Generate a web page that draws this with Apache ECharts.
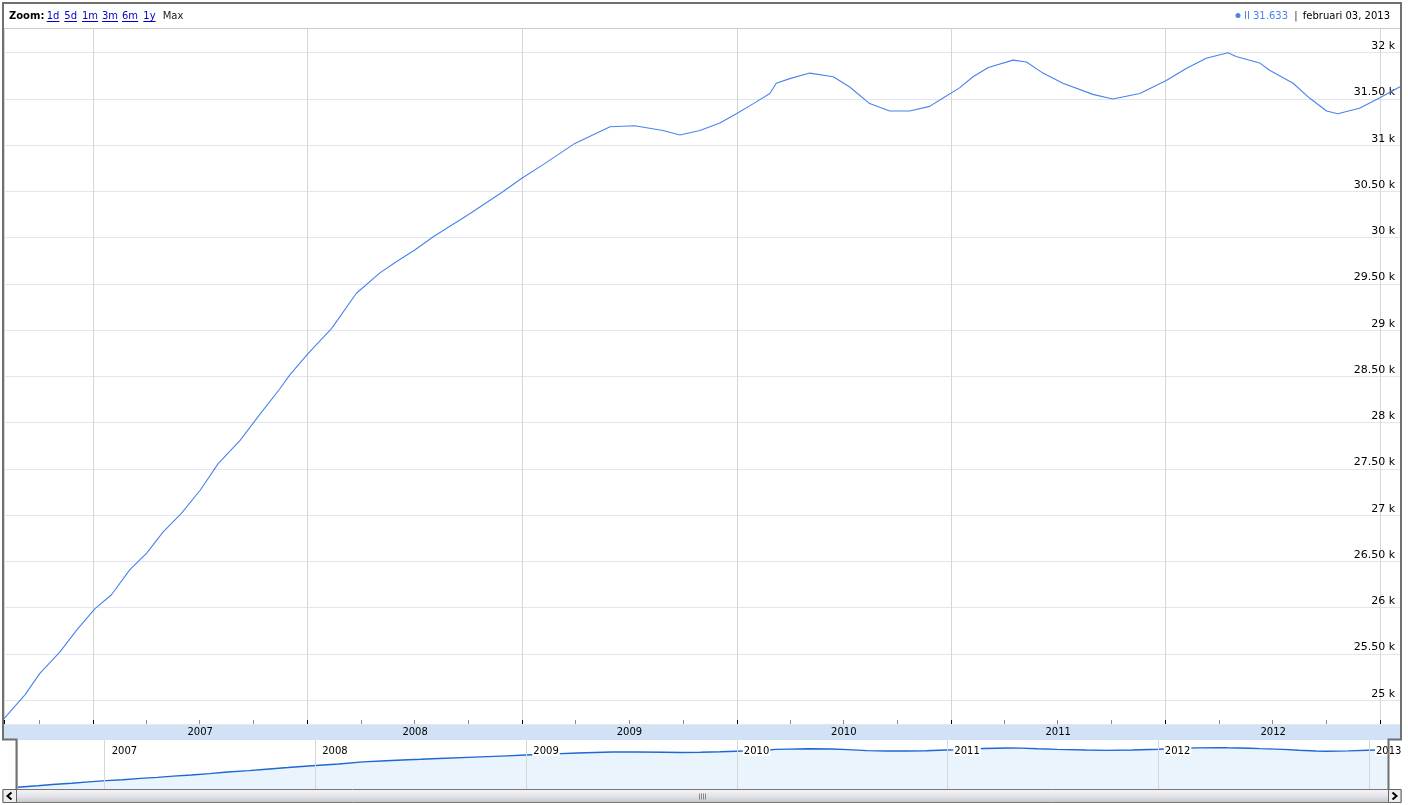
<!DOCTYPE html>
<html><head><meta charset="utf-8">
<script src="https://cdn.jsdelivr.net/npm/echarts@6/dist/echarts.min.js"></script>
<style>html,body{margin:0;padding:0;background:#fff}#c{width:1408px;height:805px}</style>
</head><body><div id="c"></div>
<script>
// ---------- data ----------
const dates = ['2006-08-02','2006-09-07','2006-10-02','2006-11-05','2006-12-04','2007-01-04','2007-02-01','2007-03-04','2007-04-02','2007-04-30','2007-05-31','2007-07-02','2007-08-02','2007-09-08','2007-10-08','2007-11-15','2007-12-02','2008-01-02','2008-02-11','2008-03-24','2008-05-03','2008-05-31','2008-07-02','2008-08-02','2008-10-03','2008-11-29','2008-12-30','2009-02-05','2009-02-19','2009-03-31','2009-05-30','2009-07-11','2009-08-28','2009-09-26','2009-10-30','2009-12-03','2009-12-31','2010-01-29','2010-02-26','2010-03-09','2010-04-01','2010-05-05','2010-06-14','2010-07-12','2010-08-15','2010-09-18','2010-10-22','2010-11-25','2010-12-18','2011-01-15','2011-02-07','2011-03-05','2011-04-16','2011-05-09','2011-06-06','2011-07-10','2011-08-30','2011-10-03','2011-11-18','2012-01-02','2012-02-05','2012-03-10','2012-04-16','2012-04-30','2012-06-09','2012-06-26','2012-08-05','2012-09-02','2012-10-01','2012-10-20','2012-11-26','2012-12-30','2013-02-03'];
const values = [24800,25060,25290,25520,25760,25990,26140,26410,26590,26820,27020,27270,27560,27810,28060,28370,28520,28750,29020,29400,29620,29740,29870,30010,30260,30500,30640,30790,30850,31020,31200,31210,31160,31110,31160,31240,31340,31450,31560,31670,31720,31780,31740,31630,31450,31370,31370,31420,31510,31620,31740,31840,31920,31900,31780,31670,31550,31500,31560,31700,31830,31940,32000,31960,31890,31810,31670,31510,31370,31340,31400,31510,31633];
const bandYears = [2007,2008,2009,2010,2011,2012];
const zoomLinks = ['1d','5d','1m','3m','6m','1y'];
const zoomLinkX = [46.7,64.3,82,102,122,143.3];
const seriesName = 'II';
const lastValueText = '31.633';
const lastDateText = 'februari 03, 2013';
const xMinDate = '2006-08-02', xMaxDate = '2013-02-03';
const yMin = 24743, yMax = 32262;
const navMin = 24380, navMax = 33380;

// ---------- helpers ----------
const ts = s => { const p = s.split('-').map(Number); return Date.UTC(p[0], p[1]-1, p[2]); };
const xMin = ts(xMinDate), xMax = ts(xMaxDate);
const points = dates.map((d,i) => [ts(d), values[i]]);
const FONT = '"DejaVu Sans", Verdana, sans-serif';
const BLUE = '#4684ee';

const ctx = document.createElement('canvas').getContext('2d');
ctx.font = '10px ' + FONT;
const tw = t => ctx.measureText(t).width;

const timeAxisBase = (grid, pos) => ({
  type: 'time', gridIndex: grid, position: pos, min: xMin, max: xMax,
  axisLine: {show:false}, axisTick: {show:false}, axisLabel: {show:false}, splitLine: {show:false}
});

const graphics = [];
// header
graphics.push({type:'text', x:9, y:16, style:{text:'Zoom:', font:'bold 10px '+FONT, fill:'#000', verticalAlign:'middle'}, z:100});
zoomLinks.forEach((t,i) => {
  graphics.push({type:'text', x:zoomLinkX[i], y:16, style:{text:t, font:'10px '+FONT, fill:'#0000cc', verticalAlign:'middle'}, z:100});
  graphics.push({type:'line', shape:{x1:zoomLinkX[i], y1:21.5, x2:zoomLinkX[i]+tw(t), y2:21.5}, style:{stroke:'#0000cc', lineWidth:1}, z:100});
});
graphics.push({type:'text', x:162.7, y:16, style:{text:'Max', font:'10px '+FONT, fill:'#222', verticalAlign:'middle'}, z:100});
graphics.push({type:'text', x:1390, y:16, style:{text:lastDateText, font:'10px '+FONT, fill:'#000', align:'right', verticalAlign:'middle'}, z:100});
graphics.push({type:'text', x:1296, y:16, style:{text:'|', font:'10px '+FONT, fill:'#333', align:'center', verticalAlign:'middle'}, z:100});
graphics.push({type:'text', x:1288, y:16, style:{text:seriesName + ' ' + lastValueText, font:'10px '+FONT, fill:BLUE, align:'right', verticalAlign:'middle'}, z:100});
graphics.push({type:'circle', shape:{cx:1238, cy:15.5, r:2.5}, style:{fill:BLUE}, z:100});
graphics.push({type:'line', shape:{x1:4, y1:28.5, x2:1400, y2:28.5}, style:{stroke:'#cccccc', lineWidth:1}, z:100});
// scrollbar
graphics.push({type:'rect', shape:{x:3, y:789.5, width:1398, height:13}, style:{fill:new echarts.graphic.LinearGradient(0,0,0,1,[{offset:0,color:'#f6f6f9'},{offset:0.5,color:'#e4e4ea'},{offset:1,color:'#c4c4cc'}]), stroke:'#777', lineWidth:1}, z:100});
graphics.push({type:'rect', shape:{x:3, y:789.5, width:13.5, height:13}, style:{fill:'#eeeeee', stroke:'#666', lineWidth:1}, z:101});
graphics.push({type:'rect', shape:{x:1388.5, y:789.5, width:12.5, height:13}, style:{fill:'#eeeeee', stroke:'#666', lineWidth:1}, z:101});
graphics.push({type:'polyline', shape:{points:[[11.5,792.5],[7.5,796],[11.5,799.5]]}, style:{stroke:'#000', lineWidth:2, fill:null}, z:102});
graphics.push({type:'polyline', shape:{points:[[1392.5,792.5],[1396.5,796],[1392.5,799.5]]}, style:{stroke:'#000', lineWidth:2, fill:null}, z:102});
[699.5,701.5,703.5,705.5].forEach(x => graphics.push({type:'line', shape:{x1:x, y1:793.5, x2:x, y2:799.5}, style:{stroke:'#888', lineWidth:1}, z:101}));
// frame
graphics.push({type:'polyline', shape:{points:[[16.5,790],[16.5,739.5],[3,739.5],[3,3],[1401,3],[1401,739.5],[1388.5,739.5],[1388.5,790]]}, style:{stroke:'#707070', lineWidth:2, fill:null}, z:100});

const option = {
  animation: false,
  useUTC: true,
  backgroundColor: '#ffffff',
  textStyle: {fontFamily: FONT},
  grid: [
    {left:4, right:8, top:28.5, bottom:81, containLabel:false, outerBoundsMode:'none'},
    {left:4, right:8, top:724, height:16, show:true, backgroundColor:'#d1e1f6', borderWidth:0, containLabel:false, outerBoundsMode:'none'},
    {left:17, right:20, top:740, height:49.5, show:true, backgroundColor:'#ffffff', borderWidth:0, containLabel:false, outerBoundsMode:'none'}
  ],
  xAxis: [
    Object.assign(timeAxisBase(0,'bottom'), {splitNumber:26, axisTick:{show:true, inside:true, length:4, lineStyle:{color:'#8a8a8a', width:1}}}),
    Object.assign(timeAxisBase(0,'bottom'), {splitNumber:7, splitLine:{show:true, lineStyle:{color:'#d3d8d3', width:1}}, axisTick:{show:true, inside:true, length:4, lineStyle:{color:'#000', width:1}}}),
    Object.assign(timeAxisBase(1,'bottom'), {show:false}),
    Object.assign(timeAxisBase(2,'top'), {splitNumber:7, z:10,
      splitLine:{show:true, lineStyle:{color:'#d3d9d3', width:1}},
      axisLabel:{show:true, inside:true, margin:5, align:'left', padding:[0,0,0,6], showMinLabel:false, showMaxLabel:false,
        formatter: v => '{t|' + new Date(v).getUTCFullYear() + '}',
        rich:{t:{fontSize:10, fontFamily:FONT, color:'#000', backgroundColor:'#ffffff', padding:[1,1,0,1]}}}}),
    Object.assign(timeAxisBase(2,'bottom'), {splitNumber:26, axisTick:{show:true, inside:true, length:4, lineStyle:{color:'#a0a0a0', width:1}}}),
    Object.assign(timeAxisBase(2,'bottom'), {splitNumber:7, axisTick:{show:true, inside:true, length:5, lineStyle:{color:'#000', width:1}}})
  ],
  yAxis: [
    {type:'value', gridIndex:0, position:'right', min:yMin, max:yMax, splitNumber:15,
      axisLine:{show:false}, axisTick:{show:false},
      splitLine:{show:true, lineStyle:{color:'#e5e5ef', width:1}},
      axisLabel:{show:true, inside:true, margin:5, color:'#000', fontSize:11, fontFamily:FONT, verticalAlign:'bottom', padding:[0,0,1,0],
        showMinLabel:false, showMaxLabel:false,
        formatter: v => (Math.round(v) % 500 !== 0) ? '' : (Math.round(v) % 1000 === 0 ? (Math.round(v)/1000) + ' k' : (v/1000).toFixed(2) + ' k')}},
    {type:'value', gridIndex:1, min:0, max:1, show:false},
    {type:'value', gridIndex:2, min:navMin, max:navMax, show:false}
  ],
  series: [
    {type:'line', name:seriesName, xAxisIndex:1, yAxisIndex:0, data:points, showSymbol:false, symbol:'none',
      lineStyle:{color:BLUE, width:1.1}, itemStyle:{color:BLUE}, z:5},
    {type:'custom', xAxisIndex:2, yAxisIndex:1, clip:false, silent:true,
      data: bandYears.map(y => [Date.UTC(y,6,2), 0.5]),
      renderItem: (params, api) => {
        const p = api.coord([api.value(0), api.value(1)]);
        return {type:'text', x:p[0], y:p[1], style:{text:String(bandYears[params.dataIndex]), fill:'#000', font:'10px '+FONT, align:'center', verticalAlign:'middle'}};
      }},
    {type:'line', xAxisIndex:3, yAxisIndex:2, data:points, showSymbol:false, symbol:'none',
      lineStyle:{color:'#1f66d6', width:1.4}, areaStyle:{color:'#eaf4fd', opacity:1}, z:2}
  ],
  graphic: graphics
};
const chart = echarts.init(document.getElementById('c'), null, {renderer:'canvas'});
chart.setOption(option);
</script></body></html>
